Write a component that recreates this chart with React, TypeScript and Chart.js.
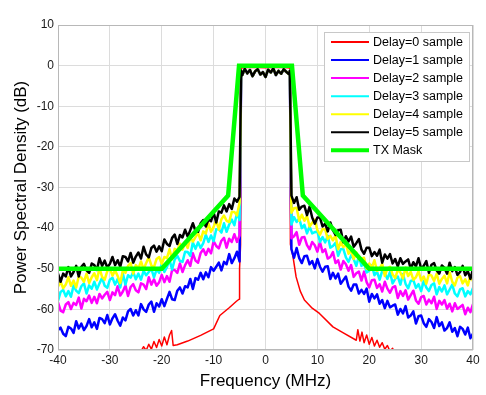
import React, { useEffect, useRef } from "react";
import { Chart, registerables } from "chart.js";
Chart.register(...registerables);

// ---- sample grids (MHz) ----
const LEFT_FREQS = Array.from({ length: 71 }, (_, i) => -40 + i * 0.5);
const RIGHT_FREQS = Array.from({ length: 71 }, (_, i) => 5 + i * 0.5);
const PASS_FREQS = [-4.7, -4.5, -4, -3.5, -3, -2.5, -2, -1.5, -1, -0.5, 0, 0.5, 1, 1.5, 2, 2.5, 3, 3.5, 4, 4.5, 4.7];

// in-band PSD (dB), shared by the delayed series
const PASSBAND = [-1.2, -2.4, -0.8, -1.9, -1.1, -2.6, -1.4, -0.9, -2.2, -1.6, -2.8, -1.0, -1.7, -0.7, -2.3, -1.3, -2.0, -0.9, -1.5, -2.1, -1.3];

// ---- Delay=5 (black) ----
const BLACK_LEFT = [
  -51.2, -53.2, -51.2, -51.9, -49.6, -51.9, -50.8, -49.3, -51.9, -49.5,
  -48.8, -50.4, -51.0, -48.7, -49.1, -50.3, -47.4, -49.3, -48.0, -49.7,
  -48.8, -47.1, -49.1, -47.9, -49.5, -46.9, -47.1, -48.2, -46.1, -48.5,
  -47.0, -46.0, -47.5, -44.6, -46.5, -47.2, -44.9, -44.3, -45.8, -44.5,
  -45.7, -42.8, -43.9, -44.4, -42.4, -41.6, -43.9, -41.7, -42.3, -40.4,
  -42.1, -40.5, -38.8, -40.7, -40.9, -38.8, -38.0, -39.6, -37.9, -38.3,
  -36.2, -38.6, -35.9, -36.2, -34.4, -35.9, -34.1, -35.3, -32.7, -33.5,
  -32.3,
];
const BLACK_RIGHT = [
  -32.0, -33.8, -32.4, -35.5, -34.7, -34.5, -36.8, -34.7, -37.4, -38.9,
  -37.4, -37.4, -39.6, -38.9, -40.8, -38.6, -40.5, -41.7, -40.5, -40.4,
  -43.5, -42.0, -43.3, -42.1, -44.6, -43.7, -42.7, -45.3, -46.3, -44.8,
  -44.8, -46.9, -45.9, -46.8, -45.3, -48.5, -46.5, -47.5, -46.4, -48.7,
  -47.6, -49.4, -47.4, -48.8, -48.2, -47.7, -50.0, -48.4, -49.4, -47.4,
  -50.0, -49.3, -48.1, -51.0, -49.0, -48.6, -50.4, -51.2, -49.2, -49.8,
  -51.2, -48.5, -50.6, -49.6, -51.5, -50.8, -49.3, -51.6, -50.6, -52.5,
  -50.1,
];

// ---- Delay=4 (yellow) ----
const YELLOW_LEFT = [
  -54.4, -53.2, -54.8, -53.9, -52.1, -54.2, -52.9, -54.6, -51.9, -52.2,
  -53.2, -51.2, -53.5, -52.1, -51.1, -52.8, -49.9, -52.0, -52.7, -50.6,
  -50.0, -51.7, -50.4, -51.8, -53.5, -50.4, -51.0, -49.3, -48.6, -51.2,
  -49.1, -49.9, -48.2, -50.1, -48.6, -47.2, -49.2, -49.6, -47.6, -47.1,
  -48.8, -47.1, -47.4, -45.2, -47.7, -45.1, -45.5, -43.8, -45.3, -43.6,
  -44.9, -42.4, -43.3, -42.2, -41.2, -43.0, -40.8, -41.3, -38.8, -40.9,
  -39.7, -38.0, -40.4, -37.8, -36.9, -38.2, -38.5, -36.0, -36.0, -36.9,
  -33.7,
];
const YELLOW_RIGHT = [
  -36.2, -35.1, -35.0, -38.2, -36.7, -38.2, -37.0, -39.6, -38.7, -37.9,
  -40.5, -41.6, -40.2, -40.3, -42.7, -41.9, -43.0, -41.8, -45.2, -43.4,
  -44.7, -43.9, -46.3, -45.5, -47.6, -46.0, -47.7, -47.5, -47.3, -50.0,
  -48.7, -49.8, -47.9, -50.5, -49.9, -48.8, -51.8, -49.9, -49.5, -51.4,
  -52.3, -50.3, -50.9, -52.4, -49.7, -51.8, -50.8, -52.7, -52.1, -50.6,
  -52.9, -51.9, -53.7, -51.3, -51.7, -53.0, -51.2, -53.7, -52.5, -51.7,
  -53.6, -50.9, -53.2, -54.1, -52.2, -51.8, -53.6, -52.6, -54.1, -51.6,
  -53.1,
];

// ---- Delay=3 (cyan) ----
const CYAN_LEFT = [
  -57.9, -55.7, -55.2, -56.8, -55.5, -56.9, -54.1, -55.4, -56.0, -54.3,
  -53.6, -56.1, -54.1, -54.9, -53.2, -55.1, -53.6, -52.2, -54.2, -54.7,
  -52.7, -52.2, -53.9, -52.5, -54.6, -51.2, -53.9, -51.6, -52.2, -50.8,
  -52.6, -51.2, -52.7, -50.5, -51.6, -50.8, -50.0, -52.1, -50.2, -51.0,
  -48.7, -50.8, -49.6, -47.8, -50.2, -47.7, -46.8, -48.1, -48.3, -45.8,
  -45.9, -46.8, -43.5, -45.1, -43.5, -44.9, -43.7, -41.6, -43.4, -41.8,
  -43.2, -40.3, -40.3, -41.1, -38.8, -40.9, -39.1, -37.9, -39.3, -36.2,
  -38.0,
];
const CYAN_RIGHT = [
  -39.1, -37.3, -38.5, -37.6, -40.0, -39.2, -41.3, -39.6, -41.3, -41.0,
  -40.8, -43.4, -42.2, -43.5, -41.9, -44.8, -44.4, -43.6, -46.8, -45.2,
  -45.1, -47.2, -48.3, -46.7, -47.6, -49.3, -46.9, -49.3, -48.7, -50.9,
  -50.5, -49.1, -51.6, -50.7, -52.7, -50.5, -51.1, -52.5, -50.8, -53.6,
  -52.5, -51.9, -53.9, -51.3, -53.7, -54.8, -53.0, -52.8, -54.7, -53.8,
  -55.5, -53.0, -54.6, -55.5, -54.0, -53.6, -56.3, -54.5, -55.6, -54.1,
  -56.3, -55.1, -53.9, -56.1, -56.8, -55.1, -54.8, -56.8, -55.5, -56.3,
  -54.7,
];

// ---- Delay=2 (magenta) ----
const MAGENTA_LEFT = [
  -58.3, -60.3, -60.7, -58.8, -58.2, -59.9, -58.4, -58.9, -57.1, -59.8,
  -57.4, -58.0, -56.6, -58.4, -56.9, -58.5, -56.2, -57.3, -56.4, -55.7,
  -57.7, -55.8, -56.5, -54.3, -56.6, -55.6, -54.1, -56.7, -54.5, -53.8,
  -55.3, -55.8, -53.6, -53.9, -55.0, -52.1, -53.9, -52.6, -54.2, -53.3,
  -51.5, -53.3, -51.8, -53.2, -50.3, -50.3, -51.0, -48.7, -50.8, -49.1,
  -47.9, -49.3, -46.2, -48.0, -48.5, -46.1, -45.2, -46.6, -45.1, -46.2,
  -43.2, -44.4, -45.0, -43.1, -42.4, -44.8, -42.6, -43.4, -41.5, -43.4,
  -41.8,
];
const MAGENTA_RIGHT = [
  -42.5, -42.0, -41.0, -44.1, -42.3, -42.2, -44.2, -45.2, -43.4, -44.2,
  -45.8, -43.4, -45.9, -45.2, -47.5, -47.1, -45.9, -48.6, -47.9, -50.2,
  -48.1, -48.9, -50.5, -49.1, -52.0, -51.1, -50.7, -52.9, -50.7, -53.3,
  -54.6, -52.8, -52.7, -54.7, -53.8, -55.6, -53.2, -54.9, -55.9, -54.6,
  -54.3, -57.2, -55.5, -56.7, -55.3, -57.6, -56.5, -55.4, -57.8, -58.6,
  -57.0, -56.7, -58.8, -57.6, -58.5, -56.9, -59.9, -57.9, -58.8, -57.7,
  -59.8, -58.6, -60.5, -58.5, -59.9, -59.4, -58.9, -61.2, -59.6, -60.7,
  -58.7,
];

// ---- Delay=1 (blue) ----
const BLUE_LEFT = [
  -65.1, -64.5, -66.0, -66.6, -64.3, -64.7, -65.8, -62.9, -64.7, -63.5,
  -65.1, -64.1, -62.4, -64.4, -63.2, -64.8, -62.1, -62.4, -63.4, -61.4,
  -63.7, -62.2, -61.2, -62.8, -64.0, -62.0, -62.7, -60.5, -59.9, -61.5,
  -60.2, -61.5, -58.7, -60.0, -60.6, -58.8, -58.1, -60.6, -58.5, -59.3,
  -57.5, -59.2, -57.4, -55.7, -57.5, -57.7, -55.4, -54.6, -56.1, -54.3,
  -54.6, -52.5, -55.0, -52.3, -52.7, -51.0, -52.6, -50.9, -52.1, -49.6,
  -50.5, -49.5, -48.5, -50.4, -48.3, -48.9, -46.4, -48.6, -47.4, -45.8,
  -48.2,
];
const BLUE_RIGHT = [
  -45.2, -47.3, -44.9, -47.4, -48.6, -46.9, -46.8, -48.9, -48.1, -49.9,
  -47.6, -49.5, -50.7, -49.5, -49.4, -52.5, -51.0, -52.4, -51.2, -53.7,
  -52.8, -51.9, -54.4, -55.4, -53.9, -53.9, -56.1, -55.2, -56.2, -54.9,
  -58.1, -56.2, -57.3, -56.3, -58.6, -57.7, -59.7, -57.9, -59.5, -59.1,
  -58.8, -61.3, -59.9, -61.0, -59.2, -62.0, -61.5, -60.5, -63.5, -61.7,
  -61.5, -63.4, -64.3, -62.4, -63.1, -64.6, -61.9, -64.1, -63.2, -65.2,
  -64.6, -63.2, -65.5, -64.6, -66.6, -64.3, -64.8, -66.2, -64.5, -67.1,
  -66.0,
];

// ---- Delay=0 (red), its own sample points ----
const RED_FREQS = [
  -24.5, -24, -23.5, -23, -22.5, -22, -21.5, -21, -20.5, -20, -19.5, -19, -18.5, -18.1, -17.8,
  -17, -15, -12.5, -10, -8.8, -7, -5.6, -5.1, -5.0, -4.8, -4.7,
  -3, 0, 3,
  4.7, 4.8, 5.3, 5.9, 6.7, 7.5, 9, 10.4, 13, 15, 17.5, 17.8, 18.2, 18.6, 19, 19.5, 20,
  20.5, 21, 21.5, 22, 22.5, 23, 23.5, 24, 24.5, 25,
];
const RED_PSD = [
  -71, -70.3, -69.2, -70.1, -68.6, -69.8, -67.9, -69.4, -67.4, -69.0, -66.8, -68.7, -66.3, -65.2, -68.9,
  -68.7, -67.8, -66.4, -64.8, -61.5, -59.6, -58.0, -57.5, -50, -44, -0.6,
  -0.4, -0.5, -0.4,
  -0.6, -44, -47, -52, -55.5, -57.7, -59.7, -61, -64.3, -65.8, -67.6, -65.0, -67.8, -65.6, -68.2, -66.3, -68.6,
  -66.9, -69.0, -67.6, -69.3, -68.2, -69.8, -68.9, -70.3, -69.6, -71,
];

// ---- TX mask ----
const MASK_FREQS = [-40, -20, -7.2, -5.1, 5.1, 7.2, 20, 40];
const MASK_DB = [-50, -50, -32, 0, 0, -32, -50, -50];

const X_TICKS = [-40, -30, -20, -10, 0, 10, 20, 30, 40];
const Y_TICKS = [-70, -60, -50, -40, -30, -20, -10, 0, 10];

const LABELS = [
  "Delay=0 sample",
  "Delay=1 sample",
  "Delay=2 sample",
  "Delay=3 sample",
  "Delay=4 sample",
  "Delay=5 sample",
  "TX Mask",
];
const COLORS = ["#ff0000", "#0000ff", "#ff00ff", "#00ffff", "#ffff00", "#000000", "#00ff00"];
const WIDTHS = [1.5, 2.5, 2.5, 2.5, 2.5, 2.5, 4.5];

const FONT = 'Arial, "Liberation Sans", sans-serif';

function toPoints(xs: number[], ys: number[]) {
  return xs.map((x, i) => ({ x, y: ys[i] }));
}
function fullSeries(left: number[], right: number[]) {
  return [
    ...toPoints(LEFT_FREQS, left),
    ...toPoints(PASS_FREQS, PASSBAND),
    ...toPoints(RIGHT_FREQS, right),
  ];
}

const boxPlugin = {
  id: "plotBox",
  afterDatasetsDraw(chart: any) {
    const { ctx, chartArea: a } = chart;
    ctx.save();
    ctx.strokeStyle = "#b8b8b8";
    ctx.lineWidth = 1;
    ctx.strokeRect(a.left + 0.5, a.top + 0.5, a.right - a.left - 1, a.bottom - a.top - 1);
    ctx.restore();
  },
};

const legendPlugin = {
  id: "boxLegend",
  afterDraw(chart: any) {
    const { ctx, chartArea: a } = chart;
    const right = a.right - 3;
    const top = a.top + 7;
    const w = 146;
    const h = 130;
    const left = right - w;
    ctx.save();
    ctx.fillStyle = "#ffffff";
    ctx.fillRect(left, top, w, h);
    ctx.strokeStyle = "#c8c8c8";
    ctx.lineWidth = 1;
    ctx.strokeRect(left + 0.5, top + 0.5, w - 1, h - 1);
    ctx.font = `12.5px ${FONT}`;
    ctx.textBaseline = "middle";
    ctx.textAlign = "left";
    LABELS.forEach((lab, i) => {
      const y = top + 10 + i * 18.05;
      ctx.strokeStyle = COLORS[i];
      ctx.lineWidth = i === 6 ? 4 : 2;
      ctx.beginPath();
      ctx.moveTo(left + 7, y);
      ctx.lineTo(left + 45, y);
      ctx.stroke();
      ctx.fillStyle = "#000000";
      ctx.fillText(lab, left + 49, y + 0.5);
    });
    ctx.restore();
  },
};

export default function App() {
  const ref = useRef<HTMLCanvasElement>(null);
  useEffect(() => {
    document.body.style.margin = "0";
    const datasets = [
      { data: toPoints(RED_FREQS, RED_PSD), order: 6 },
      { data: fullSeries(BLUE_LEFT, BLUE_RIGHT), order: 5 },
      { data: fullSeries(MAGENTA_LEFT, MAGENTA_RIGHT), order: 4 },
      { data: fullSeries(CYAN_LEFT, CYAN_RIGHT), order: 3 },
      { data: fullSeries(YELLOW_LEFT, YELLOW_RIGHT), order: 2 },
      { data: fullSeries(BLACK_LEFT, BLACK_RIGHT), order: 1 },
      { data: toPoints(MASK_FREQS, MASK_DB), order: 0 },
    ].map((d, i) => ({
      label: LABELS[i],
      data: d.data,
      order: d.order,
      borderColor: COLORS[i],
      backgroundColor: COLORS[i],
      borderWidth: WIDTHS[i],
      pointRadius: 0,
      tension: 0,
      fill: false,
      borderJoinStyle: (i === 6 ? "miter" : "round") as CanvasLineJoin,
    }));

    const chart = new Chart(ref.current!, {
      type: "line",
      data: { datasets },
      options: {
        animation: false,
        responsive: false,
        devicePixelRatio: 1,
        layout: { padding: { top: 25, right: 13, left: 0, bottom: 0 } },
        plugins: { legend: { display: false }, tooltip: { enabled: false } },
        font: { family: FONT },
        scales: {
          x: {
            type: "linear",
            min: -40,
            max: 40,
            afterBuildTicks: (s: any) => {
              s.ticks = X_TICKS.map((v) => ({ value: v }));
            },
            afterFit: (s: any) => {
              s.height = 45;
            },
            ticks: { font: { family: FONT, size: 12 }, color: "#1a1a1a", padding: 3, maxRotation: 0 },
            grid: { color: "#dcdcdc", drawTicks: false },
            border: { display: false },
            title: {
              display: true,
              text: "Frequency (MHz)",
              font: { family: FONT, size: 17 },
              color: "#000000",
              padding: { top: 0, bottom: 3 },
            },
          },
          y: {
            type: "linear",
            min: -70,
            max: 10,
            afterBuildTicks: (s: any) => {
              s.ticks = Y_TICKS.map((v) => ({ value: v }));
            },
            afterFit: (s: any) => {
              s.width = 58;
            },
            ticks: { font: { family: FONT, size: 12 }, color: "#1a1a1a", padding: 4 },
            grid: { color: "#dcdcdc", drawTicks: false },
            border: { display: false },
            title: {
              display: true,
              text: "Power Spectral Density (dB)",
              font: { family: FONT, size: 17 },
              color: "#000000",
              padding: { top: 11, bottom: 0 },
            },
          },
        },
      },
      plugins: [boxPlugin, legendPlugin],
    });
    return () => chart.destroy();
  }, []);
  return (
    <div style={{ width: 486, height: 395 }}>
      <canvas ref={ref} width={486} height={395} style={{ display: "block", width: 486, height: 395 }} />
    </div>
  );
}
